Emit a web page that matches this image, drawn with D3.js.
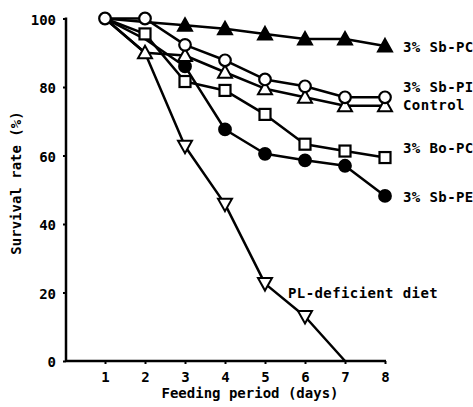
<!DOCTYPE html>
<html>
<head>
<meta charset="utf-8">
<script src="https://cdn.jsdelivr.net/npm/d3@7"></script>
<style>
  body { margin: 0; background: #fff; }
  text { font-family: "DejaVu Sans Mono", monospace; font-weight: bold; fill: #000; }
</style>
</head>
<body>
<div id="chart"></div>
<script>
// Chart data
var days = [1, 2, 3, 4, 5, 6, 7, 8];
var sbPC = [100, 99, 98, 97, 95.5, 94, 94, 92];
var sbPI = [100, 100, 92.3, 87.8, 82.2, 80.2, 77, 77];
var control = [100, 90, 89.2, 84.3, 79.5, 77, 74.5, 74.5];
var boPC = [100, 95.5, 81.6, 79, 72, 63.3, 61.3, 59.4];
var sbPE = [100, 94, 86, 67.6, 60.5, 58.6, 57, 48.2];
var plDef = [100, 90, 62.7, 45.8, 22.6, 13, 0];
var yTicks = [0, 20, 40, 60, 80, 100];

// "skip" = days whose marker is hidden behind another one in the original
var series = [
  { name: "3% Sb-PC", values: sbPC, marker: "triUp", fill: "#000", skip: [1, 2] },
  { name: "3% Sb-PE", values: sbPE, marker: "circle", fill: "#000", skip: [1, 2] },
  { name: "3% Bo-PC", values: boPC, marker: "square", fill: "#fff", skip: [1] },
  { name: "Control", values: control, marker: "triUp", fill: "#fff", skip: [1] },
  { name: "PL-deficient diet", values: plDef, marker: "triDown", fill: "#fff", skip: [1, 2, 7] },
  { name: "3% Sb-PI", values: sbPI, marker: "circle", fill: "#fff", skip: [] }
];

var svgWidth = 473;
var svgHeight = 407;

var svg = d3.select("#chart")
  .append("svg")
  .attr("width", svgWidth)
  .attr("height", svgHeight);

var x = d3.scaleLinear().domain([1, 8]).range([105, 385]);
var y = d3.scaleLinear().domain([0, 100]).range([361, 18.5]);

// axes
var xAxis = svg.append("g")
  .attr("transform", "translate(0, 361)")
  .call(d3.axisBottom(x).tickValues(days).tickSize(3).tickPadding(8).tickFormat(d3.format("d")));
xAxis.select(".domain").attr("d", "M66,0H386").attr("stroke-width", 2.5);

var yAxis = svg.append("g")
  .attr("transform", "translate(66, 0)")
  .call(d3.axisLeft(y).tickValues(yTicks).tickSize(3).tickPadding(7));
yAxis.select(".domain").attr("d", "M0,17.5V362").attr("stroke-width", 2.5);

svg.selectAll(".tick line").attr("stroke-width", 2);
svg.selectAll(".tick text")
  .style("font-size", "14px")
  .style("font-family", "'DejaVu Sans Mono', monospace")
  .style("font-weight", "bold");
yAxis.selectAll(".tick text").attr("dy", "0.4em");

// lines
var line = d3.line()
  .x(function(d, i) { return x(days[i]); })
  .y(function(d) { return y(d); });

svg.selectAll(".series-line")
  .data(series)
  .enter()
  .append("path")
  .attr("class", "series-line")
  .attr("d", function(s) { return line(s.values); })
  .attr("fill", "none")
  .attr("stroke", "#000")
  .attr("stroke-width", 2.5)
  .attr("stroke-linejoin", "round");

// markers
function markerPath(type) {
  if (type === "triUp") return "M0,-7L7,5.5L-7,5.5Z";
  if (type === "triDown") return "M0,7L7,-5.5L-7,-5.5Z";
  return null;
}

series.forEach(function(s) {
  var pts = s.values
    .map(function(v, i) { return { x: days[i], y: v }; })
    .filter(function(d) { return s.skip.indexOf(d.x) < 0; });
  var g = svg.append("g");
  if (s.marker === "circle") {
    g.selectAll("circle").data(pts).enter().append("circle")
      .attr("cx", d => x(d.x))
      .attr("cy", d => y(d.y))
      .attr("r", 5.8)
      .attr("fill", s.fill)
      .attr("stroke", "#000")
      .attr("stroke-width", 2.2);
  } else if (s.marker === "square") {
    g.selectAll("rect").data(pts).enter().append("rect")
      .attr("x", d => x(d.x) - 5.5)
      .attr("y", d => y(d.y) - 5.5)
      .attr("width", 11)
      .attr("height", 11)
      .attr("fill", s.fill)
      .attr("stroke", "#000")
      .attr("stroke-width", 2.2);
  } else {
    g.selectAll("path").data(pts).enter().append("path")
      .attr("transform", d => `translate(${x(d.x)}, ${y(d.y)})`)
      .attr("d", markerPath(s.marker))
      .attr("fill", s.fill)
      .attr("stroke", "#000")
      .attr("stroke-width", 2)
      .attr("stroke-linejoin", "miter");
  }
});

// series labels
var labels = [
  { text: "3% Sb-PC", x: 403, y: 52 },
  { text: "3% Sb-PI", x: 403, y: 92 },
  { text: "Control", x: 403, y: 110 },
  { text: "3% Bo-PC", x: 403, y: 153 },
  { text: "3% Sb-PE", x: 403, y: 202 },
  { text: "PL-deficient diet", x: 288, y: 298 }
];
svg.selectAll(".series-label")
  .data(labels)
  .enter()
  .append("text")
  .attr("class", "series-label")
  .attr("x", d => d.x)
  .attr("y", d => d.y)
  .style("font-size", "14px")
  .style("letter-spacing", "0.4px")
  .text(d => d.text);

// axis titles
svg.append("text")
  .attr("x", 250)
  .attr("y", 398)
  .attr("text-anchor", "middle")
  .style("font-size", "14px")
  .text("Feeding period (days)");

svg.append("text")
  .attr("transform", "rotate(-90)")
  .attr("x", -183)
  .attr("y", 21)
  .attr("text-anchor", "middle")
  .style("font-size", "14px")
  .text("Survival rate (%)");
</script>
</body>
</html>
